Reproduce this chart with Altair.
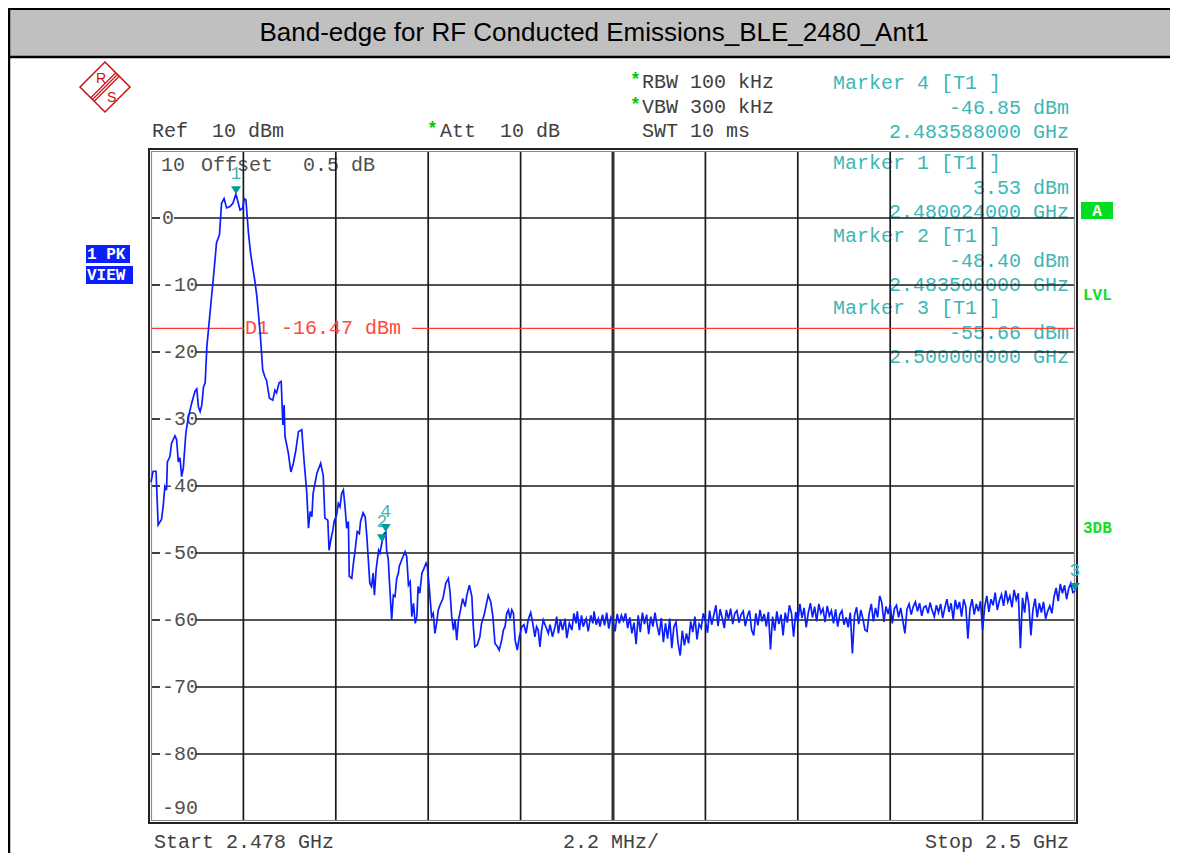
import altair as alt
import pandas as pd

NB = "\u00a0"
MONO = "Liberation Mono"
SANS = "Liberation Sans"

title_text = "Band-edge for RF Conducted Emissions_BLE_2480_Ant1"
start_mhz = 2478.0
stop_mhz = 2500.0
ref_level = 10
bottom_level = -90

grid_freqs = [2480.2, 2482.4, 2484.6, 2486.8, 2491.2, 2493.4, 2495.6, 2497.8]
center_freq = [2489.0]
grid_levels_zero = [0]
grid_levels = [-10, -20, -30, -40, -50, -60, -70, -80]
grid_labels = ["-10", "-20", "-30", "-40", "-50", "-60", "-70", "-80"]
d1_level = [-16.47]

# trace (MHz, dBm)
trace_f = [
    2478.00, 2478.05, 2478.12, 2478.17, 2478.25, 2478.29, 2478.33, 2478.37, 2478.39, 2478.45,
    2478.49, 2478.57, 2478.61, 2478.65, 2478.69, 2478.73, 2478.77, 2478.83, 2478.89, 2478.97,
    2479.05, 2479.09, 2479.13, 2479.17, 2479.21, 2479.25, 2479.29, 2479.33, 2479.39, 2479.45,
    2479.48, 2479.56, 2479.63, 2479.68, 2479.74, 2479.80, 2479.88, 2479.95, 2480.02, 2480.05,
    2480.12, 2480.18, 2480.22, 2480.26, 2480.32, 2480.37, 2480.42, 2480.48, 2480.52, 2480.60,
    2480.66, 2480.71, 2480.75, 2480.82, 2480.90, 2480.95, 2480.99, 2481.05, 2481.10, 2481.14,
    2481.17, 2481.19, 2481.27, 2481.33, 2481.39, 2481.45, 2481.51, 2481.59, 2481.64, 2481.71,
    2481.75, 2481.79, 2481.83, 2481.86, 2481.95, 2482.04, 2482.10, 2482.14, 2482.21, 2482.24,
    2482.28, 2482.33, 2482.36, 2482.42, 2482.46, 2482.50, 2482.54, 2482.58, 2482.62, 2482.66,
    2482.70, 2482.72, 2482.78, 2482.82, 2482.86, 2482.91, 2482.96, 2482.99, 2483.05, 2483.10,
    2483.14, 2483.17, 2483.21, 2483.25, 2483.29, 2483.32, 2483.36, 2483.39, 2483.42, 2483.45,
    2483.50, 2483.55, 2483.59, 2483.61, 2483.65, 2483.67, 2483.73, 2483.77, 2483.81, 2483.85,
    2483.89, 2483.91, 2483.97, 2484.05, 2484.09, 2484.13, 2484.17, 2484.21, 2484.25, 2484.29,
    2484.33, 2484.36, 2484.40, 2484.45, 2484.50, 2484.55, 2484.58, 2484.63, 2484.68, 2484.72,
    2484.76, 2484.80, 2484.84, 2484.88, 2484.95, 2485.02, 2485.08, 2485.12, 2485.16, 2485.20,
    2485.24, 2485.28, 2485.32, 2485.37, 2485.42, 2485.48, 2485.52, 2485.58, 2485.64, 2485.67,
    2485.71, 2485.77, 2485.83, 2485.87, 2485.93, 2485.99, 2486.03, 2486.09, 2486.14, 2486.19,
    2486.25, 2486.29, 2486.35, 2486.39, 2486.43, 2486.47, 2486.51, 2486.55, 2486.59, 2486.63,
    2486.67, 2486.72, 2486.77, 2486.83, 2486.88, 2486.93, 2486.98, 2487.04, 2487.09, 2487.14,
    2487.18, 2487.22, 2487.26, 2487.30, 2487.34, 2487.40, 2487.46, 2487.50, 2487.56, 2487.62,
    2487.66, 2487.70, 2487.75, 2487.80, 2487.86, 2487.90, 2487.96, 2488.02, 2488.07, 2488.12,
    2488.15, 2488.20, 2488.25, 2488.29, 2488.36, 2488.41, 2488.47, 2488.52, 2488.55, 2488.60,
    2488.65, 2488.69,
]
trace_l = [
    -39.4, -37.8, -37.8, -45.8, -45.0, -43.0, -40.1, -40.6, -36.4, -35.6,
    -33.6, -32.5, -33.1, -36.4, -35.8, -38.6, -37.3, -32.1, -29.7, -27.6,
    -25.8, -25.5, -28.2, -28.9, -27.9, -25.2, -24.6, -19.2, -15.2, -11.2,
    -9.3, -3.7, -2.5, 2.2, 2.9, 1.5, 1.7, 2.2, 3.53, 2.9,
    1.2, 1.4, 2.9, 2.7, -2.2, -5.2, -7.3, -9.7, -11.7, -17.2,
    -22.7, -23.7, -24.2, -26.9, -27.2, -25.7, -26.1, -24.6, -24.4, -30.9,
    -27.9, -32.6, -35.1, -37.9, -36.6, -34.6, -31.9, -31.6, -35.9, -41.1,
    -46.3, -43.8, -44.6, -41.1, -38.1, -36.6, -38.4, -44.8, -45.1, -49.6,
    -48.1, -46.6, -45.3, -44.3, -42.6, -43.1, -41.1, -40.6, -43.1, -46.3,
    -45.3, -53.5, -53.8, -51.5, -49.6, -46.8, -47.1, -45.3, -44.0, -44.6,
    -47.6, -50.6, -54.5, -55.0, -53.0, -56.3, -52.5, -51.0, -49.6, -50.0,
    -48.40, -47.1, -46.85, -49.6, -51.0, -53.5, -60.0, -56.3, -56.5, -53.8,
    -53.0, -52.0, -51.0, -49.8, -50.6, -54.8, -54.3, -59.5, -57.5, -60.5,
    -59.5, -55.0, -56.0, -53.0, -52.3, -51.5, -52.0, -55.5, -59.5, -59.0,
    -62.0, -60.5, -58.5, -57.8, -56.8, -54.5, -53.8, -55.8, -59.5, -61.5,
    -60.0, -63.0, -60.0, -58.5, -56.8, -58.0, -56.3, -54.8, -56.5, -60.5,
    -64.0, -63.7, -62.5, -60.5, -59.3, -57.5, -56.3, -57.3, -59.5, -63.5,
    -64.0, -64.5, -63.0, -61.5, -61.0, -59.0, -58.5, -59.8, -58.5, -59.0,
    -63.0, -64.5, -62.5, -61.0, -60.7, -62.0, -60.0, -58.9, -60.5, -62.5,
    -61.0, -61.5, -64.0, -61.5, -60.0, -61.0, -62.0, -60.7, -62.5, -61.0,
    -59.5, -62.0, -60.0, -61.5, -59.8, -62.7, -60.5, -61.5, -59.0, -60.5,
    -58.7, -61.5, -59.3, -61.0, -59.8, -61.7, -59.3, -60.5, -58.7, -60.7,
    -59.8, -61.0,
]

# noise floor, one sweep point every 0.05 MHz from 2488.75 MHz
noise_start = 2488.75
noise_step = 0.05
noise_l = [
    -59.2, -60.8, -58.9, -61.3, -59.6, -60.2, -61.7, -59.1, -60.5, -59.3,
    -60.1, -59.0, -61.2, -59.6, -62.0, -60.4, -63.6, -59.3, -61.8, -58.9,
    -60.6, -59.2, -62.1, -59.5, -61.0, -58.9, -60.8, -62.3, -59.7, -63.3,
    -60.5, -62.8, -59.8, -64.2, -61.0, -60.3, -63.5, -65.3, -61.6, -63.8,
    -62.0, -63.5, -60.2, -61.8, -59.5, -62.9, -60.6, -61.2, -59.0, -60.1,
    -61.9, -58.6, -60.7, -59.3, -57.8, -60.9, -58.4, -59.7, -61.2, -58.5,
    -59.9, -58.3, -60.6, -59.0, -58.6, -60.4, -59.2, -58.7, -60.9, -59.4,
    -58.6, -61.5, -62.3, -59.0, -60.8, -58.5, -60.2, -59.1, -61.0, -58.8,
    -64.4, -59.5, -61.6, -58.7, -60.6, -59.2, -62.3, -58.9, -60.4, -57.8,
    -59.0, -62.5, -58.8, -60.3, -57.6, -59.7, -58.2, -61.1, -58.9, -57.5,
    -59.6, -58.0, -60.2, -57.6, -59.0, -58.3, -60.3, -57.9, -59.4, -58.6,
    -60.5, -58.4, -61.0, -59.2, -58.6, -60.7, -59.6, -61.1, -58.9, -65.0,
    -59.3, -58.1, -60.6, -58.5, -59.8, -61.5, -61.7, -59.0, -57.6, -60.2,
    -58.2, -59.6, -56.4, -57.4, -60.3, -58.0, -59.1, -57.7, -60.5, -58.3,
    -57.8, -59.6, -58.2, -60.1, -62.0, -58.4, -57.6, -59.2, -58.0, -57.3,
    -58.7, -57.5, -59.4, -58.1, -57.9, -59.0, -57.4, -58.6, -59.5, -57.8,
    -58.9, -57.6, -59.7, -58.2, -56.9, -58.8, -57.5, -59.9, -57.0, -58.4,
    -57.3, -59.5, -56.9, -58.0, -62.8, -58.3, -56.9, -59.2, -57.6, -58.7,
    -57.2, -61.5, -58.0, -56.4, -58.8, -56.9, -57.8, -55.9, -58.5, -57.1,
    -56.2, -57.9, -55.6, -57.3, -56.4, -58.1, -55.5, -57.0, -56.0, -64.2,
    -56.7, -58.9, -55.8, -57.6, -62.3, -58.4, -56.8, -59.6, -57.5, -58.9,
    -57.3, -59.8, -58.7, -57.9, -59.0, -56.6, -55.2, -57.2, -54.6, -56.0,
    -54.8, -56.9, -55.3, -54.5, -55.9, -55.66,
]

marker_f = [2480.024, 2483.5, 2500.0, 2483.588]
marker_l = [3.53, -48.40, -55.66, -46.85]
marker_n = ["1", "2", "3", "4"]
marker_info = [
    ("Marker 4 [T1 ]", "-46.85 dBm", "2.483588000 GHz"),
    ("Marker 1 [T1 ]", "3.53 dBm", "2.480024000 GHz"),
    ("Marker 2 [T1 ]", "-48.40 dBm", "2.483500000 GHz"),
    ("Marker 3 [T1 ]", "-55.66 dBm", "2.500000000 GHz"),
]

# ---------------------------------------------------------------
noise_f = [round(noise_start + i * noise_step, 3) for i in range(len(noise_l))]
df_trace = pd.DataFrame({"f": trace_f + noise_f, "l": trace_l + noise_l})
df_mk = pd.DataFrame({"f": marker_f, "l": marker_l, "n": marker_n})

X = alt.Scale(domain=[start_mhz, stop_mhz], range=[143, 1067])
Y = alt.Scale(domain=[bottom_level, ref_level], range=[813, 143])

W, H = 1162, 845
GRID = "#1a1a1a"
TEAL_T = "#3db6b6"
TEAL_M = "#009c9c"
GREEN = "#11dd22"
RED = "#ff3b30"
BLUE = "#0a1eff"


def nb(s):
    return s.replace(" ", NB)


def one():
    return alt.Data(values=[{"a": 1}])


def text(s, x, y, color, size=20, align="left", font=MONO, weight="normal", dy=0):
    return alt.Chart(alt.Data(values=[{"t": nb(s)}])).mark_text(
        x=x, y=y, dy=dy, align=align, baseline="middle", color=color,
        fontSize=size, font=font, fontWeight=weight
    ).encode(text=alt.Text("t:N"))


def box(x, y, x2, y2, fill):
    return alt.Chart(one()).mark_rect(color=fill).encode(
        x=alt.value(x), x2=alt.value(x2), y=alt.value(y), y2=alt.value(y2))


def frame(x, y, x2, y2, color, width):
    return alt.Chart(one()).mark_rect(fillOpacity=0, stroke=color, strokeWidth=width).encode(
        x=alt.value(x), x2=alt.value(x2), y=alt.value(y), y2=alt.value(y2))


def rule(x, y, x2, y2, color, width):
    return alt.Chart(one()).mark_rule(color=color, strokeWidth=width).encode(
        x=alt.value(x), x2=alt.value(x2), y=alt.value(y), y2=alt.value(y2))


layers = []

# title band and page frame
layers.append(box(0, 0, W, 49, "#c0c0c0"))
layers.append(rule(0, 1, W, 1, "#000000", 2))
layers.append(rule(0, 49, W, 49, "#000000", 2.5))
layers.append(rule(1, 0, 1, H, "#000000", 2.5))
layers.append(text(title_text, 586, 25, "#000000", size=26, align="center", font=SANS))

# header texts
layers.append(text("Ref  10 dBm", 144, 123, "#404040"))
layers.append(text("*", 419, 121, "#00cc00", size=18, weight="bold"))
layers.append(text("Att  10 dB", 432, 123, "#404040"))
layers.append(text("*", 622, 72, "#00cc00", size=18, weight="bold"))
layers.append(text("RBW 100 kHz", 634, 74, "#404040"))
layers.append(text("*", 622, 97, "#00cc00", size=18, weight="bold"))
layers.append(text("VBW 300 kHz", 634, 99, "#404040"))
layers.append(text("SWT 10 ms", 634, 123, "#404040"))

block_y = [75, 155, 228, 300]
for (t1, t2, t3), by in zip(marker_info, block_y):
    layers.append(text(t1, 825, by, TEAL_T))
    layers.append(text(t2, 1061, by + 24.5, TEAL_T, align="right"))
    layers.append(text(t3, 1061, by + 48.5, TEAL_T, align="right"))

# inner top text
layers.append(text("10", 153, 157, "#505050"))
layers.append(text("Offset", 193, 157, "#505050"))
layers.append(text("0.5 dB", 295, 157, "#505050"))

# bottom texts
layers.append(text("Start 2.478 GHz", 146, 834, "#404040"))
layers.append(text("2.2 MHz/", 603, 834, "#404040", align="center"))
layers.append(text("Stop 2.5 GHz", 1061, 834, "#404040", align="right"))

# side indicators
layers.append(box(1073, 194, 1105, 211, "#00dd22"))
layers.append(text("A", 1089, 203, "#ffffff", size=16, align="center", weight="bold"))
layers.append(text("LVL", 1075, 287, GREEN, size=16, weight="bold"))
layers.append(text("3DB", 1075, 520, GREEN, size=16, weight="bold"))
layers.append(box(78, 237, 122, 255, BLUE))
layers.append(text("1 PK", 79, 246, "#ffffff", size=16, weight="bold"))
layers.append(box(78, 258, 125, 276, BLUE))
layers.append(text("VIEW", 79, 267, "#ffffff", size=16, weight="bold"))

# R&S logo
layers.append(alt.Chart(one()).mark_point(
    shape="M0,-1L1,0L0,1L-1,0Z", size=2500, color="#cc1111", strokeWidth=1.5, opacity=1
).encode(x=alt.value(97), y=alt.value(79)))
layers.append(alt.Chart(one()).mark_point(
    shape="M0.43,-0.57L-0.57,0.43M0.5,-0.5L-0.5,0.5M0.57,-0.43L-0.43,0.57",
    size=2500, color="#cc1111", strokeWidth=1.2, opacity=1
).encode(x=alt.value(97), y=alt.value(79)))
layers.append(text("R", 88, 71, "#cc1111", size=14, font=SANS))
layers.append(text("S", 99, 90, "#cc1111", size=14, font=SANS))

# y labels inside the plot
df_g0 = pd.DataFrame({"l": grid_levels_zero, "t": ["0"]})
df_g = pd.DataFrame({"l": grid_levels, "t": grid_labels})
for d in (df_g0, df_g):
    layers.append(alt.Chart(d).mark_text(
        align="left", baseline="middle", color="#505050", fontSize=20, font=MONO
    ).encode(y=alt.Y("l:Q", scale=Y, axis=None), x=alt.value(154), text="t:N"))
layers.append(alt.Chart(pd.DataFrame({"l": [bottom_level], "t": ["-90"]})).mark_text(
    align="left", baseline="middle", color="#505050", fontSize=20, font=MONO, dy=-13
).encode(y=alt.Y("l:Q", scale=Y, axis=None), x=alt.value(154), text="t:N"))

# horizontal grid, interrupted by the labels
for d, x_start in ((df_g0, 166), (df_g, 188)):
    layers.append(alt.Chart(d).mark_rule(color=GRID, strokeWidth=1.7).encode(
        y=alt.Y("l:Q", scale=Y, axis=None), x=alt.value(143), x2=alt.value(152)))
    layers.append(alt.Chart(d).mark_rule(color=GRID, strokeWidth=1.7).encode(
        y=alt.Y("l:Q", scale=Y, axis=None), x=alt.value(x_start), x2=alt.value(1067)))

# vertical grid
layers.append(alt.Chart(pd.DataFrame({"f": grid_freqs})).mark_rule(color=GRID, strokeWidth=1.7).encode(
    x=alt.X("f:Q", scale=X, axis=None), y=alt.value(143), y2=alt.value(813)))
layers.append(alt.Chart(pd.DataFrame({"f": center_freq})).mark_rule(color="#303030", strokeWidth=3).encode(
    x=alt.X("f:Q", scale=X, axis=None), y=alt.value(143), y2=alt.value(813)))

# display line D1
df_d1 = pd.DataFrame({"l": d1_level})
layers.append(alt.Chart(df_d1).mark_rule(color=RED, strokeWidth=1.4).encode(
    y=alt.Y("l:Q", scale=Y, axis=None), x=alt.value(143), x2=alt.value(236)))
layers.append(alt.Chart(df_d1).mark_rule(color=RED, strokeWidth=1.4).encode(
    y=alt.Y("l:Q", scale=Y, axis=None), x=alt.value(404), x2=alt.value(1067)))
layers.append(alt.Chart(pd.DataFrame({"l": d1_level, "t": [nb("D1 -16.47 dBm")]})).mark_text(
    align="left", baseline="middle", color="#ff4a40", fontSize=20, font=MONO
).encode(y=alt.Y("l:Q", scale=Y, axis=None), x=alt.value(237), text="t:N"))

# plot frame
layers.append(frame(141, 141, 1069, 815, "#222222", 2))
layers.append(frame(143.5, 143.5, 1066.5, 812.5, "#8a8a8a", 1.2))

# trace
layers.append(alt.Chart(df_trace).mark_line(color=BLUE, strokeWidth=1.7).encode(
    x=alt.X("f:Q", scale=X, axis=None), y=alt.Y("l:Q", scale=Y, axis=None)))

# markers
layers.append(alt.Chart(df_mk).mark_text(
    color=TEAL_T, fontSize=18, font=MONO, dy=-20, baseline="middle", align="center"
).encode(x=alt.X("f:Q", scale=X, axis=None), y=alt.Y("l:Q", scale=Y, axis=None), text="n:N"))
layers.append(alt.Chart(df_mk).mark_point(
    shape="M-1,-1.6L1,-1.6L0,0Z", size=100, filled=True, color=TEAL_M, opacity=1
).encode(x=alt.X("f:Q", scale=X, axis=None), y=alt.Y("l:Q", scale=Y, axis=None)))

chart = alt.layer(*layers).properties(
    width=W, height=H, padding=0,
    autosize=alt.AutoSizeParams(type="none"),
).configure_view(strokeWidth=0)

chart.save("out.html", embed_options={"renderer": "svg", "actions": False})
